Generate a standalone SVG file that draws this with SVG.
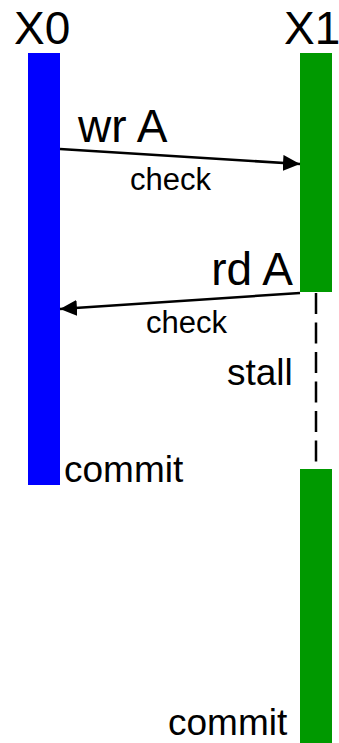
<svg xmlns="http://www.w3.org/2000/svg" width="339" height="743" viewBox="0 0 339 743">
<defs>
<style>
text{font-family:"Liberation Sans",Arial,sans-serif;fill:#000}
.big{font-size:46px}
.mid{font-size:37px}
.sm{font-size:31px}
.conn{stroke:#000;stroke-width:2.5;fill:none}
</style>
<marker id="ah" markerUnits="userSpaceOnUse" markerWidth="18" markerHeight="16" refX="17" refY="8" orient="auto">
<path d="M0,0 L17,8 L0,16 Z" fill="#000"/>
</marker>
</defs>
<rect width="339" height="743" fill="#fff"/>
<g id="x0">
<rect x="28" y="53" width="32" height="432" fill="#0000ff"/>
<text class="big" x="14" y="44">X0</text>
<text class="mid" x="64" y="482">commit</text>
</g>
<g id="x1">
<rect x="300" y="53" width="32" height="239" fill="#009900"/>
<rect x="300" y="469" width="32" height="274" fill="#009900"/>
<text class="big" x="284" y="44">X1</text>
<text class="mid" x="168" y="735">commit</text>
</g>
<g id="connectors">
<line class="conn" x1="60" y1="149" x2="300" y2="164" marker-end="url(#ah)"/>
<line class="conn" x1="300" y1="293" x2="60" y2="309" marker-end="url(#ah)"/>
<line class="conn" x1="316" y1="293" x2="316" y2="462" stroke-dasharray="21 8.5"/>
</g>
<g id="labels">
<text class="big" x="78" y="142">wr A</text>
<text class="sm" x="130" y="190">check</text>
<text class="big" x="293" y="285" text-anchor="end">rd A</text>
<text class="sm" x="146" y="333">check</text>
<text class="mid" x="227" y="385">stall</text>
</g>
</svg>
